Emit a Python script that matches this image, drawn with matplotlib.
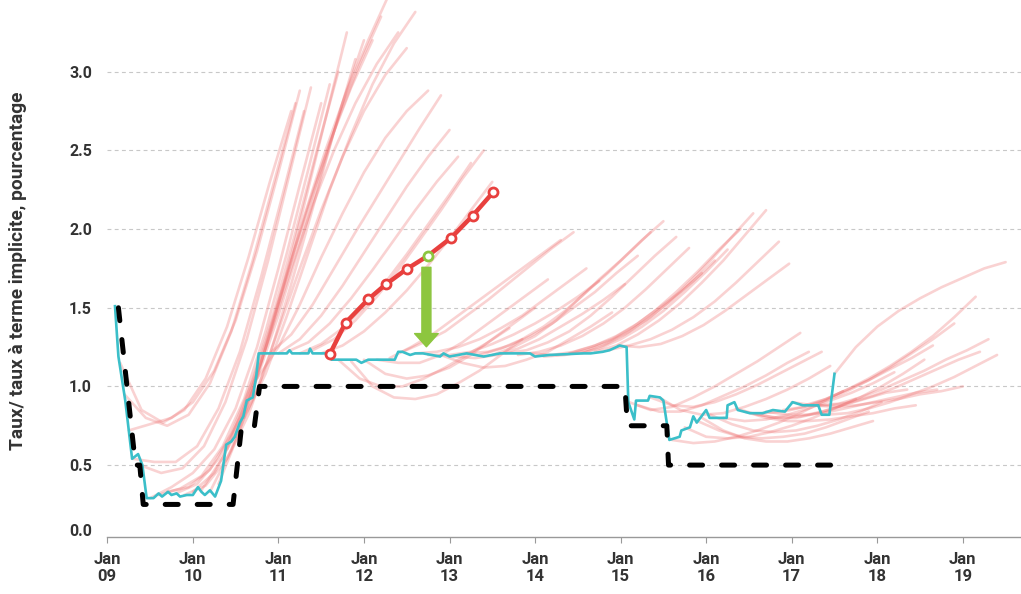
import matplotlib
matplotlib.use("Agg")
import matplotlib.pyplot as plt

plt.rcParams['font.family'] = ['Roboto', 'DejaVu Sans']

# policy rate (black dashed)
rate_x = [2009.13, 2009.33, 2009.38, 2009.42, 2010.47, 2010.57, 2010.72, 2010.78,
          2015.05, 2015.08, 2015.54, 2015.56, 2017.5]
rate_y = [1.5, 0.5, 0.5, 0.25, 0.25, 0.75, 0.75, 1.0, 1.0, 0.75, 0.75, 0.5, 0.5]

# market rate (blue)
blue_x = [2009.09, 2009.13, 2009.21, 2009.29, 2009.36, 2009.41, 2009.46, 2009.54, 2009.6,
          2009.64, 2009.71, 2009.75, 2009.81, 2009.85, 2009.93, 2010.0, 2010.06, 2010.1,
          2010.14, 2010.2, 2010.26, 2010.33, 2010.39, 2010.45, 2010.49, 2010.55, 2010.59,
          2010.63, 2010.7, 2010.74, 2010.77, 2011.1, 2011.13, 2011.16, 2011.35, 2011.37,
          2011.4, 2011.6, 2011.62, 2011.91, 2011.97, 2012.05, 2012.15, 2012.36, 2012.4,
          2012.45, 2012.54, 2012.6, 2012.69, 2012.89, 2012.93, 2013.0, 2013.2, 2013.4,
          2013.59, 2013.94, 2014.0, 2014.17, 2014.56, 2014.65, 2014.79, 2014.87, 2014.99,
          2015.07, 2015.09, 2015.16, 2015.18, 2015.32, 2015.34, 2015.46, 2015.5, 2015.57,
          2015.69, 2015.71, 2015.81, 2015.85, 2015.89, 2016.0, 2016.04, 2016.24, 2016.25,
          2016.33, 2016.37, 2016.51, 2016.66, 2016.78, 2016.92, 2017.01, 2017.13, 2017.31,
          2017.35, 2017.44, 2017.5]
blue_y = [1.51, 1.19, 0.91, 0.54, 0.57, 0.50, 0.29, 0.29, 0.32,
          0.30, 0.33, 0.31, 0.32, 0.30, 0.31, 0.31, 0.36, 0.33,
          0.31, 0.34, 0.30, 0.40, 0.63, 0.65, 0.68, 0.77, 0.81,
          0.91, 0.93, 1.06, 1.21, 1.21, 1.23, 1.21, 1.21, 1.24,
          1.21, 1.21, 1.17, 1.17, 1.15, 1.17, 1.17, 1.17, 1.22,
          1.22, 1.20, 1.21, 1.21, 1.19, 1.21, 1.19, 1.21, 1.19,
          1.21, 1.21, 1.19, 1.20, 1.21, 1.21, 1.22, 1.23, 1.26,
          1.25, 0.90, 0.79, 0.91, 0.91, 0.94, 0.93, 0.91, 0.66,
          0.68, 0.72, 0.74, 0.81, 0.77, 0.85, 0.80, 0.80, 0.88,
          0.90, 0.85, 0.83, 0.83, 0.85, 0.84, 0.90, 0.88, 0.88,
          0.82, 0.82, 1.08]

# implied forward curves (pink): start date + values every quarter year
fwd_offsets = [0, 0.25, 0.5, 0.75, 1.0, 1.25, 1.5, 1.75, 2.0]
fwd_starts = [2009.15, 2009.2, 2009.25, 2009.3, 2009.38, 2009.5, 2009.6, 2009.7, 2009.8,
              2009.9, 2010.0, 2010.1, 2010.2, 2010.3, 2010.4, 2010.5, 2010.6, 2010.75,
              2010.9, 2011.0, 2011.1, 2011.25, 2011.4, 2011.5,
              2011.7, 2011.85, 2012.0, 2012.15, 2012.3, 2012.45, 2012.6, 2012.75, 2012.9,
              2013.05, 2013.2, 2013.35, 2013.5, 2013.65, 2013.8, 2013.95, 2014.1, 2014.25,
              2014.4, 2014.55, 2014.7, 2014.85, 2014.97,
              2015.1, 2015.2, 2015.35, 2015.45, 2015.6, 2015.75, 2015.9, 2015.95, 2016.05,
              2016.2, 2016.35, 2016.45, 2016.55, 2016.65, 2016.7, 2016.9, 2017.0, 2017.15,
              2017.2, 2017.3, 2017.4, 2017.5]
fwd_values = [
    [1.15, 0.85, 0.77, 0.85, 1.05, 1.38, 1.82, 2.3, 2.75],
    [0.95, 0.8, 0.75, 0.82, 1.02, 1.35, 1.8, 2.3, 2.8],
    [0.72, 0.76, 0.8, 0.9, 1.1, 1.42, 1.86, 2.36, 2.88],
    [0.54, 0.52, 0.52, 0.62, 0.86, 1.22, 1.7, 2.22, 2.75],
    [0.5, 0.45, 0.48, 0.62, 0.9, 1.3, 1.8, 2.35, 2.9],
    [0.29, 0.36, 0.45, 0.6, 0.86, 1.25, 1.75, 2.28, 2.8],
    [0.31, 0.35, 0.43, 0.62, 0.92, 1.35, 1.85, 2.38, 2.92],
    [0.33, 0.36, 0.47, 0.7, 1.04, 1.48, 1.98, 2.5, 3.0],
    [0.32, 0.38, 0.54, 0.8, 1.16, 1.62, 2.15, 2.7, 3.25],
    [0.31, 0.37, 0.54, 0.82, 1.2, 1.65, 2.13, 2.62, 3.08],
    [0.33, 0.45, 0.7, 1.05, 1.45, 1.9, 2.35, 2.8, 3.2],
    [0.34, 0.55, 0.88, 1.28, 1.72, 2.15, 2.55, 2.9, 3.2],
    [0.33, 0.6, 0.98, 1.42, 1.88, 2.3, 2.7, 3.05, 3.35],
    [0.38, 0.72, 1.15, 1.62, 2.08, 2.5, 2.88, 3.2, 3.5],
    [0.6, 0.92, 1.32, 1.75, 2.15, 2.5, 2.8, 3.05, 3.25],
    [0.68, 0.98, 1.36, 1.75, 2.12, 2.46, 2.75, 2.98, 3.15],
    [0.8, 1.08, 1.45, 1.85, 2.25, 2.6, 2.92, 3.18, 3.38],
    [1.05, 1.25, 1.52, 1.82, 2.1, 2.36, 2.58, 2.75, 2.88],
    [1.21, 1.33, 1.52, 1.75, 1.98, 2.2, 2.42, 2.64, 2.85],
    [1.21, 1.3, 1.45, 1.64, 1.85, 2.06, 2.27, 2.46, 2.63],
    [1.22, 1.28, 1.4, 1.56, 1.74, 1.93, 2.12, 2.3, 2.46],
    [1.21, 1.27, 1.37, 1.5, 1.66, 1.84, 2.03, 2.22, 2.42],
    [1.23, 1.3, 1.42, 1.57, 1.74, 1.93, 2.12, 2.32, 2.5],
    [1.21, 1.26, 1.35, 1.47, 1.61, 1.77, 1.94, 2.12, 2.3],
    [1.17, 1.05, 1.0, 1.0, 1.05, 1.12, 1.2, 1.28, 1.37],
    [1.16, 1.0, 0.93, 0.92, 0.95, 1.02, 1.1, 1.2, 1.3],
    [1.17, 1.08, 1.05, 1.07, 1.12, 1.2, 1.3, 1.4, 1.5],
    [1.17, 1.15, 1.15, 1.2, 1.28, 1.38, 1.48, 1.58, 1.68],
    [1.18, 1.25, 1.33, 1.43, 1.53, 1.63, 1.73, 1.83, 1.93],
    [1.22, 1.28, 1.35, 1.45, 1.55, 1.66, 1.77, 1.88, 1.98],
    [1.21, 1.22, 1.25, 1.3, 1.37, 1.45, 1.55, 1.65, 1.75],
    [1.2, 1.2, 1.22, 1.27, 1.33, 1.4, 1.48, 1.57, 1.67],
    [1.2, 1.15, 1.12, 1.13, 1.17, 1.22, 1.3, 1.38, 1.47],
    [1.19, 1.18, 1.2, 1.24, 1.3, 1.38, 1.46, 1.55, 1.65],
    [1.21, 1.22, 1.26, 1.32, 1.4, 1.5, 1.6, 1.72, 1.83],
    [1.2, 1.24, 1.3, 1.38, 1.48, 1.6, 1.72, 1.85, 1.98],
    [1.2, 1.25, 1.32, 1.42, 1.55, 1.68, 1.8, 1.93, 2.05],
    [1.21, 1.23, 1.28, 1.35, 1.45, 1.57, 1.7, 1.83, 1.95],
    [1.2, 1.22, 1.26, 1.32, 1.4, 1.5, 1.62, 1.75, 1.88],
    [1.21, 1.2, 1.22, 1.26, 1.32, 1.4, 1.5, 1.6, 1.72],
    [1.19, 1.2, 1.23, 1.28, 1.35, 1.44, 1.55, 1.67, 1.8],
    [1.2, 1.21, 1.24, 1.3, 1.38, 1.48, 1.6, 1.73, 1.87],
    [1.21, 1.25, 1.3, 1.38, 1.48, 1.6, 1.73, 1.87, 2.0],
    [1.21, 1.26, 1.33, 1.42, 1.53, 1.66, 1.8, 1.95, 2.1],
    [1.22, 1.26, 1.33, 1.42, 1.53, 1.66, 1.8, 1.96, 2.12],
    [1.23, 1.26, 1.3, 1.36, 1.44, 1.54, 1.66, 1.79, 1.92],
    [1.26, 1.25, 1.27, 1.32, 1.39, 1.48, 1.58, 1.68, 1.78],
    [0.9, 0.85, 0.87, 0.93, 1.0, 1.08, 1.16, 1.25, 1.34],
    [0.88, 0.84, 0.84, 0.88, 0.94, 1.0, 1.07, 1.15, 1.22],
    [0.93, 0.88, 0.87, 0.9, 0.95, 1.01, 1.08, 1.15, 1.22],
    [0.93, 0.85, 0.82, 0.83, 0.87, 0.92, 0.98, 1.05, 1.13],
    [0.66, 0.64, 0.65, 0.68, 0.72, 0.77, 0.83, 0.9, 0.97],
    [0.74, 0.68, 0.67, 0.68, 0.71, 0.75, 0.8, 0.86, 0.92],
    [0.78, 0.72, 0.68, 0.67, 0.68, 0.7, 0.74, 0.79, 0.84],
    [0.8, 0.72, 0.67, 0.65, 0.65, 0.67, 0.7, 0.74, 0.78],
    [0.82, 0.76, 0.72, 0.71, 0.72, 0.75, 0.79, 0.84, 0.9],
    [0.8, 0.78, 0.79, 0.82, 0.86, 0.91, 0.96, 1.02, 1.09],
    [0.86, 0.82, 0.8, 0.81, 0.84, 0.88, 0.92, 0.96, 0.98],
    [0.84, 0.8, 0.78, 0.78, 0.79, 0.81, 0.83, 0.86, 0.88],
    [0.83, 0.8, 0.8, 0.83, 0.87, 0.93, 1.0, 1.08, 1.17],
    [0.83, 0.84, 0.87, 0.92, 0.98, 1.04, 1.11, 1.18, 1.26],
    [0.84, 0.82, 0.82, 0.84, 0.87, 0.9, 0.93, 0.96, 0.98],
    [0.85, 0.87, 0.91, 0.97, 1.04, 1.12, 1.21, 1.3, 1.4],
    [0.9, 0.88, 0.87, 0.88, 0.9, 0.92, 0.95, 0.97, 1.0],
    [0.88, 0.92, 0.98, 1.05, 1.13, 1.22, 1.32, 1.44, 1.57],
    [0.88, 0.88, 0.9, 0.94, 0.99, 1.05, 1.11, 1.17, 1.22],
    [0.88, 0.89, 0.93, 0.98, 1.04, 1.1, 1.17, 1.23, 1.3],
    [0.82, 0.83, 0.86, 0.9, 0.95, 1.0, 1.06, 1.13, 1.2],
    [1.08, 1.25, 1.38, 1.48, 1.56, 1.63, 1.69, 1.75, 1.79],
]

# highlighted forward curve (red) and the green point on it
red_x = [2011.60, 2011.785, 2012.05, 2012.256, 2012.50, 2012.75, 2013.02, 2013.27, 2013.51]
red_y = [1.205, 1.405, 1.554, 1.649, 1.746, 1.831, 1.945, 2.085, 2.234]
green_idx = 5
arrow_x = 2012.73
arrow_from = 1.757
arrow_to = 1.252

years = list(range(2009, 2020))
year_labels = ['Jan\n%02d' % (y - 2000) for y in years]
grid_vals = [0.5, 1.0, 1.5, 2.0, 2.5, 3.0]

fig = plt.figure(figsize=(10.21, 5.94), dpi=100)
ax = fig.add_axes([107.3 / 1021, 57 / 594, 1 - 107.3 / 1021, 1 - 57 / 594])
ax.set_xlim(2009.0, 2019.68)
ax.set_ylim(0.043, 3.456)

for g in grid_vals:
    ax.axhline(g, color='#c8c8c8', lw=0.8, ls=(0, (3.5, 3)), zorder=0)

for s, vals in zip(fwd_starts, fwd_values):
    xs = [s + o for o in fwd_offsets]
    ax.plot(xs, vals, color='#ee6a6a', alpha=0.3, lw=1.9, solid_capstyle='round', zorder=1)

ax.plot(blue_x, blue_y, color='#3bbfc9', lw=1.9, zorder=3)
ax.plot(rate_x, rate_y, color='black', lw=3.6, dashes=(2.6, 3.8),
        dash_capstyle='round', zorder=4)

ax.plot(red_x, red_y, color='#e8403e', lw=3.2, zorder=5)
ax.plot([x for i, x in enumerate(red_x) if i != green_idx],
        [y for i, y in enumerate(red_y) if i != green_idx],
        'o', ms=6.5, mfc='white', mec='#e8403e', mew=2, zorder=6)
ax.plot(red_x[green_idx], red_y[green_idx], 'o', ms=6.5, mfc='white',
        mec='#8dc63f', mew=2, zorder=6)
ax.annotate('', xy=(arrow_x, arrow_to), xytext=(arrow_x, arrow_from),
            arrowprops=dict(arrowstyle='simple,head_length=0.95,head_width=1.7,tail_width=0.65',
                            color='#8dc63f', shrinkA=0, shrinkB=0, mutation_scale=10),
            zorder=6)

ax.set_yticks([0.088] + grid_vals)
ax.set_yticklabels(['0.0', '0.5', '1.0', '1.5', '2.0', '2.5', '3.0'])
ax.set_xticks(years)
ax.set_xticklabels(year_labels, linespacing=1.15)
for lab in ax.get_yticklabels():
    lab.set_fontweight('bold')
for lab in ax.get_xticklabels():
    lab.set_fontweight('bold')
ax.tick_params(axis='y', length=0, pad=11, labelsize=11.5, labelcolor='#333333')
ax.tick_params(axis='x', length=4, width=0.8, color='#999999', pad=7,
               labelsize=12, labelcolor='#333333')

for side in ['left', 'right', 'top']:
    ax.spines[side].set_visible(False)
ax.spines['bottom'].set_color('#999999')
ax.spines['bottom'].set_linewidth(1)

fig.text(0.018, 0.544, 'Taux/ taux à terme implicite, pourcentage', rotation=90,
         ha='center', va='center', fontsize=13.8, fontweight='bold', color='#333333')

fig.savefig('out.png', dpi=100)
